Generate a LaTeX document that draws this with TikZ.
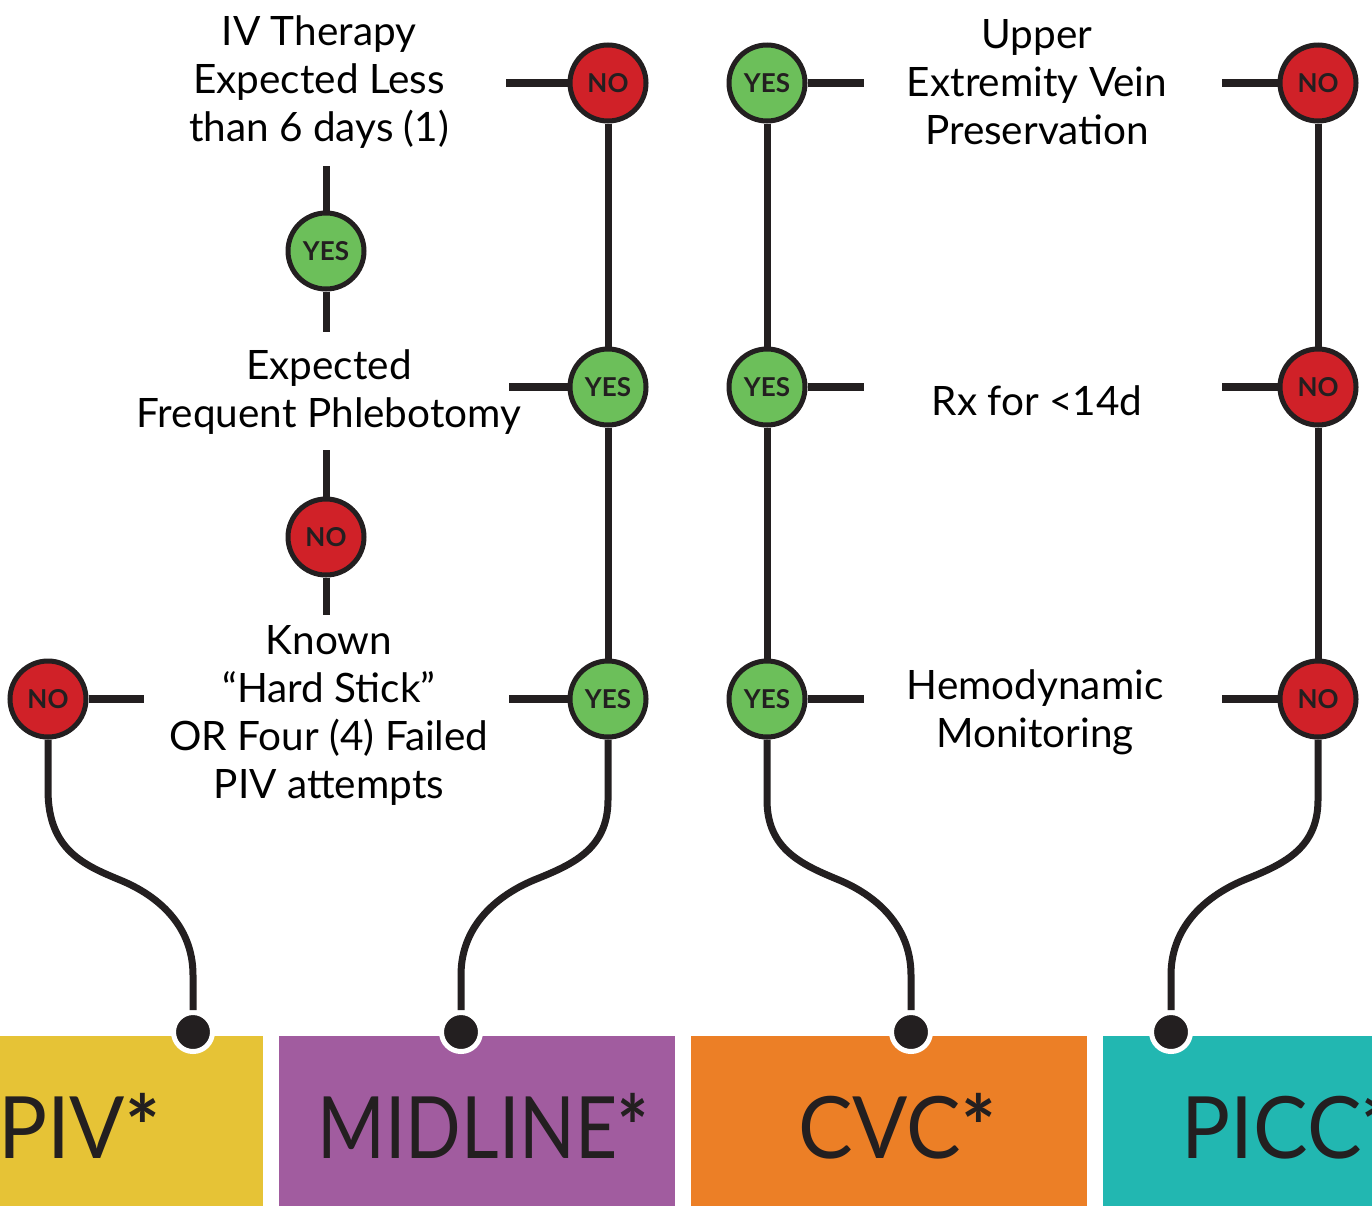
\documentclass[tikz,border=0pt]{standalone}
\usepackage{fontspec}
\usepackage{graphicx}
\setmainfont{Lato}
\definecolor{dk}{HTML}{231F20}
\definecolor{rd}{HTML}{D02128}
\definecolor{gr}{HTML}{6CBF5A}
\definecolor{yel}{HTML}{E6C336}
\definecolor{pur}{HTML}{A15C9F}
\definecolor{org}{HTML}{EC7F26}
\definecolor{teal}{HTML}{22B7B1}
\newcommand{\bast}{{\bfseries *}}
\begin{document}
\begin{tikzpicture}[x=1pt,y=-1pt,
  ln/.style={line width=7pt, draw=dk},
  stub/.style={line width=8pt, draw=dk},
  dec/.style={circle, draw=dk, line width=5pt, minimum size=76pt, inner sep=0pt,
    font=\fontsize{26}{26}\selectfont\bfseries, text=dk},
  yesc/.style={dec, fill=gr},
  noc/.style={dec, fill=rd},
  lbl/.style={align=center, font=\fontsize{40.5}{48}\selectfont, text=black, inner sep=0pt},
  boxlbl/.style={font=\fontsize{86}{86}\selectfont, text=dk, inner sep=0pt},
  dotc/.style={circle, fill=dk, draw=white, line width=5pt, minimum size=39pt, inner sep=0pt}
]
\useasboundingbox (0,0) rectangle (1372,1205);
\clip (0,0) rectangle (1372,1205);
\fill[white] (0,0) rectangle (1372,1205);

% colored boxes
\fill[yel] (-133,1036) rectangle (263,1260);
\fill[pur] (279,1036) rectangle (675,1260);
\fill[org] (691,1036) rectangle (1087,1260);
\fill[teal] (1103,1036) rectangle (1499,1260);
\node[boxlbl] (bpiv) at (79,1126) {\scalebox{0.95}[1]{PIV\bast}};
\node[boxlbl] (bmid) at (483,1126) {\scalebox{0.85}[1]{MIDLINE\bast}};
\node[boxlbl] (bcvc) at (897,1126) {\scalebox{0.95}[1]{CVC\bast}};
\node[boxlbl] (bpicc) at (1289,1126) {\scalebox{0.95}[1]{PICC\bast}};

% text labels
\node[lbl] (t1) at (319,82) {IV Therapy\\Expected Less\\than 6 days (1)};
\node[lbl] (t2) at (329,392) {Expected\\Frequent Phlebotomy};
\node[lbl] (t3) at (329,715) {Known\\“Hard Stick”\\OR Four (4) Failed\\PIV attempts};
\node[lbl] (r1) at (1037,82) {Upper\\Extremity Vein\\Preservation};
\node[lbl] (r2) at (1037,401) {Rx for <14d};
\node[lbl] (r3) at (1035,712) {Hemodynamic\\Monitoring};

% decision circles
\node[yesc] (y1) at (326,251) {YES};
\node[noc]  (n2) at (326,537) {NO};
\node[noc]  (n3) at (48,699) {NO};
\node[noc]  (m1) at (608,83) {NO};
\node[yesc] (m2) at (608,387) {YES};
\node[yesc] (m3) at (608,699) {YES};
\node[yesc] (c1) at (767,83) {YES};
\node[yesc] (c2) at (767,387) {YES};
\node[yesc] (c3) at (767,699) {YES};
\node[noc]  (p1) at (1318,83) {NO};
\node[noc]  (p2) at (1318,387) {NO};
\node[noc]  (p3) at (1318,699) {NO};

% end dots
\node[dotc] (dpiv) at (193,1032) {};
\node[dotc] (dmid) at (461,1032) {};
\node[dotc] (dcvc) at (911,1032) {};
\node[dotc] (dpicc) at (1171,1032) {};

% free ends of stubs
\coordinate (sm1) at (506,83);
\coordinate (sc1) at (864,83);
\coordinate (sp1) at (1222,83);
\coordinate (sm2) at (509,387);
\coordinate (sc2) at (864,387);
\coordinate (sp2) at (1222,387);
\coordinate (sm3) at (509,699);
\coordinate (sc3) at (864,699);
\coordinate (sp3) at (1222,699);
\coordinate (sn3) at (144,699);
\coordinate (va) at (326,166);
\coordinate (vb) at (326,332);
\coordinate (vc) at (326,450);
\coordinate (vd) at (326,615);

% stubs
\draw[stub] (sm1) -- (m1.west);
\draw[stub] (c1.east) -- (sc1);
\draw[stub] (sp1) -- (p1.west);
\draw[stub] (sm2) -- (m2.west);
\draw[stub] (c2.east) -- (sc2);
\draw[stub] (sp2) -- (p2.west);
\draw[stub] (sm3) -- (m3.west);
\draw[stub] (c3.east) -- (sc3);
\draw[stub] (sp3) -- (p3.west);
\draw[stub] (n3.east) -- (sn3);
\draw[ln] (va) -- (y1.north);
\draw[ln] (y1.south) -- (vb);
\draw[ln] (vc) -- (n2.north);
\draw[ln] (n2.south) -- (vd);

% vertical trunks
\draw[ln] (m1.south) -- (m2.north);
\draw[ln] (m2.south) -- (m3.north);
\draw[ln] (c1.south) -- (c2.north);
\draw[ln] (c2.south) -- (c3.north);
\draw[ln] (p1.south) -- (p2.north);
\draw[ln] (p2.south) -- (p3.north);

% curves to the boxes
\draw[ln] (n3.south) -- (48,790) .. controls (48,850) and (84,865) .. (120,880)
  .. controls (157,895) and (193,925) .. (193,975) -- (dpiv.north);
\draw[ln] (m3.south) -- (608,800) .. controls (608,850) and (571,865) .. (534,880)
  .. controls (498,895) and (461,925) .. (461,975) -- (dmid.north);
\draw[ln] (c3.south) -- (767,800) .. controls (767,850) and (803,865) .. (839,880)
  .. controls (875,895) and (911,925) .. (911,975) -- (dcvc.north);
\draw[ln] (p3.south) -- (1318,800) .. controls (1318,850) and (1281,865) .. (1244,880)
  .. controls (1208,895) and (1171,925) .. (1171,975) -- (dpicc.north);
\end{tikzpicture}
\end{document}
